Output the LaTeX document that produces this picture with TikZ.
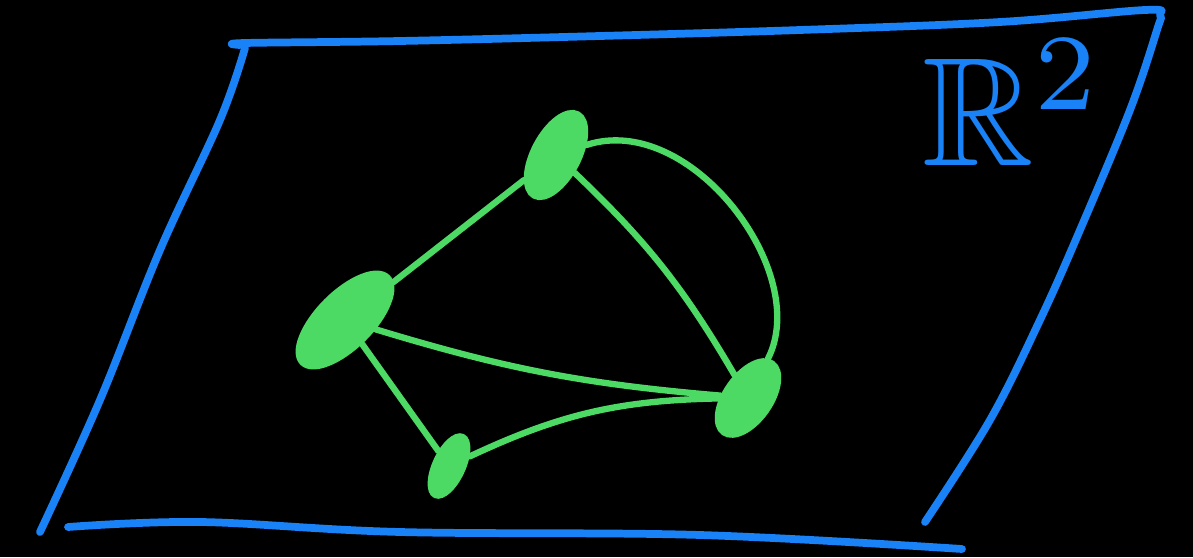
\documentclass[tikz,border=0pt]{standalone}
\usepackage{amsmath, amssymb}
\usepackage{tikz}
\usetikzlibrary{shapes.geometric}

\definecolor{planeblue}{RGB}{26,130,247}
\definecolor{vertgreen}{RGB}{76,217,100}

\begin{document}
\begin{tikzpicture}[
  x=0.01cm, y=0.01cm,
  vert/.style={ellipse, fill=vertgreen, draw=vertgreen, line width=1.8pt, inner sep=0pt},
  edge/.style={draw=vertgreen, line width=1.8pt, line cap=round},
  plane/.style={draw=planeblue, line width=2.2pt, line cap=round, line join=round}
]
\fill[black] (0,0) rectangle (1193,557);
\useasboundingbox (0,0) rectangle (1193,557);
% the plane
\draw[plane] plot[smooth, tension=0.6] coordinates {(240,512) (245,514) (400,516) (600,521) (800,527) (1000,535) (1145,547) (1160,542) (1157,527) (1130,447) (1080,327) (1040,237) (990,137) (925,35)};
\draw[plane] plot[smooth, tension=0.6] coordinates {(245,509) (220,437) (160,307) (100,157) (40,25)};
\draw[plane] plot[smooth, tension=0.6] coordinates {(68,30) (200,35) (400,25) (700,22) (962,8)};
\node[text=planeblue] (lbl) at (1013,454) {\scalebox{4.4}{$\mathbb{R}^{2}$}};
% the graph
\node[vert, minimum width=0.92cm, minimum height=0.44cm, rotate=62] (t) at (556,402) {};
\node[vert, minimum width=1.2cm, minimum height=0.52cm, rotate=45] (l) at (345,237) {};
\node[vert, minimum width=0.64cm, minimum height=0.27cm, rotate=65] (b) at (449,91) {};
\node[vert, minimum width=0.84cm, minimum height=0.44cm, rotate=55] (r) at (748,159) {};
\draw[edge] (t) -- (l);
\draw[edge] (t) to[bend left=8] (r);
\draw[edge] (t) .. controls (690,446) and (812,285) .. (r);
\draw[edge] (l) to[bend right=6] (r);
\draw[edge] (l) -- (b);
\draw[edge] (b) to[bend left=12] (r);
\end{tikzpicture}
\end{document}
